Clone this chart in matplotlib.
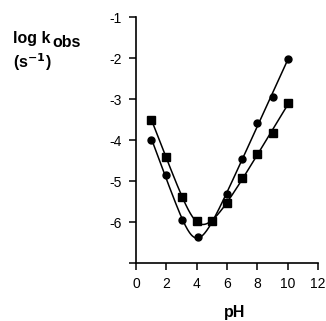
import numpy as np
import matplotlib.pyplot as plt

plt.rcParams['font.family'] = ['Liberation Sans', 'DejaVu Sans']
plt.rcParams['axes.unicode_minus'] = False

# circles
ph_circ = [1, 2, 3, 4.1, 6, 7, 8, 9, 10]
logk_circ = [-4.0, -4.85, -5.95, -6.37, -5.32, -4.46, -3.58, -2.94, -2.03]
# squares
ph_sq = [1, 2, 3, 4, 5, 6, 7, 8, 9, 10]
logk_sq = [-3.5, -4.41, -5.38, -5.97, -5.98, -5.53, -4.93, -4.33, -3.84, -3.1]

xticks = [0, 2, 4, 6, 8, 10, 12]
yticks = [-1, -2, -3, -4, -5, -6, -7]
ylabels = ['-1', '-2', '-3', '-4', '-5', '-6', '']


def model(p, x):
    a, s1, b, c, s2 = p
    return np.log10(10**(a - s1*x) + 10**b + 10**(c + s2*x))


def fit(x, y, p0):
    # small Levenberg-Marquardt, acid + water + base terms
    x = np.asarray(x, float)
    y = np.asarray(y, float)
    p = np.array(p0, float)
    lam = 1e-2
    for _ in range(300):
        r = y - model(p, x)
        J = np.empty((len(x), len(p)))
        for i in range(len(p)):
            dp = np.zeros_like(p)
            dp[i] = 1e-6
            J[:, i] = (model(p + dp, x) - model(p - dp, x)) / 2e-6
        A = J.T @ J
        step = np.linalg.solve(A + lam*np.diag(np.diag(A)), J.T @ r)
        pn = p + step
        if np.sum((y - model(pn, x))**2) < np.sum(r**2):
            p = pn
            lam *= 0.5
        else:
            lam *= 4
    return p


fig = plt.figure(figsize=(3.26, 3.21), dpi=100)
ax = fig.add_axes([136/326, 58/321, 182/326, 246/321])

for px, py, mk, ms, p0 in [(ph_circ, logk_circ, 'o', 5, [-3.1, 0.9, -6.5, -10.5, 0.85]),
                           (ph_sq, logk_sq, 's', 5.5, [-2.6, 0.9, -6.1, -10.0, 0.7])]:
    p = fit(px, py, p0)
    xs = np.linspace(min(px), max(px), 200)
    ax.plot(xs, model(p, xs), color='black', lw=1.1)
    ax.plot(px, py, mk, color='black', ms=ms)

ax.set_xlim(0, 12)
ax.set_ylim(-7, -1)
ax.set_xticks(xticks)
ax.set_yticks(yticks)
ax.set_yticklabels(ylabels)
for s in ['top', 'right']:
    ax.spines[s].set_visible(False)
for s in ['left', 'bottom']:
    ax.spines[s].set_linewidth(1.2)
ax.tick_params(direction='out', length=5, width=1.1, labelsize=10, pad=5)

fig.text(13/326, 1 - 43/321, 'log k', fontsize=11.5, fontweight='bold', va='baseline')
fig.text(52/326, 1 - 47/321, 'obs', fontsize=11.5, fontweight='bold', va='baseline')
fig.text(13/326, 1 - 62/321, r'(s$^{\mathbf{-1}}$)', fontsize=11.5, fontweight='bold', va='center')
fig.text(235/326, 1 - 312/321, 'pH', fontsize=11.5, fontweight='bold', ha='center', va='center')

fig.savefig('out.png', dpi=100)
